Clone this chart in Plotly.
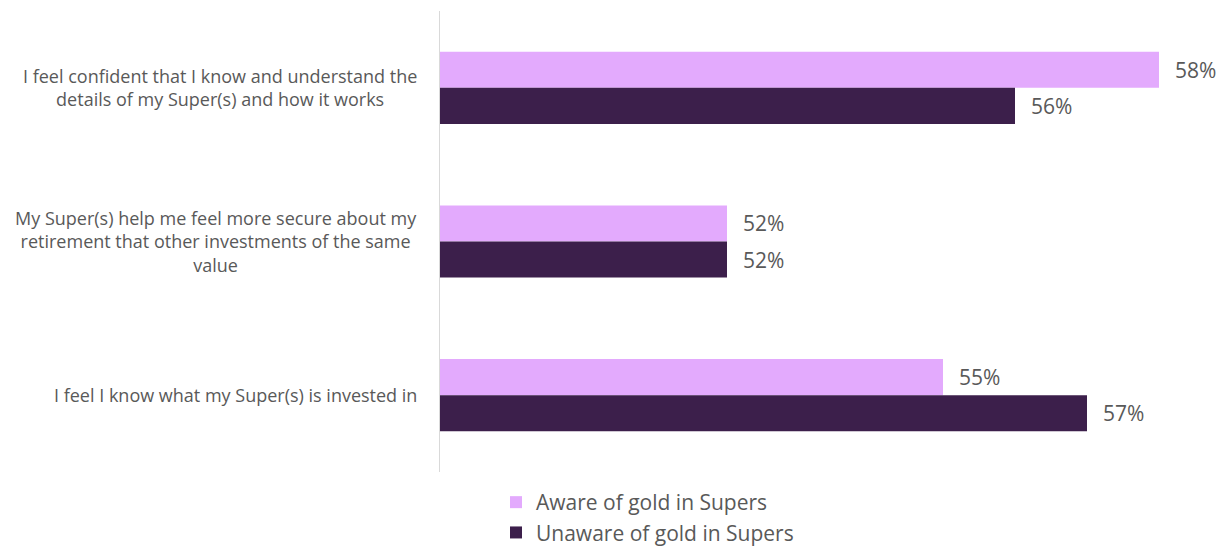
import plotly.graph_objects as go

categories = [
    "I feel confident that I know and understand the<br>details of my Super(s) and how it works",
    "My Super(s) help me feel more secure about my<br>retirement that other investments of the same<br>value",
    "I feel I know what my Super(s) is invested in",
]
aware = [58, 52, 55]
unaware = [56, 52, 57]
series_names = ["Aware of gold in Supers", "Unaware of gold in Supers"]
colors = ["#E3AAFD", "#3C1F4B"]

cat_ids = ["c1", "c2", "c3"]
TEXT = "#595959"
FONT = "Open Sans"

fig = go.Figure()
for name, vals, col in zip(series_names, [aware, unaware], colors):
    fig.add_trace(go.Bar(
        y=cat_ids, x=vals, name=name, orientation="h",
        marker=dict(color=col, line=dict(width=0)),
        text=[f"\u00a0\u00a0\u200a{v}%" for v in vals],
        textposition="outside", cliponaxis=False, constraintext="none",
        textfont=dict(family=FONT, size=21, color=TEXT),
    ))

# category labels: right-aligned block, centered lines
for cid, lab in zip(cat_ids, categories):
    fig.add_annotation(
        x=0, xref="paper", y=cid, yref="y", xanchor="right", yanchor="middle",
        xshift=-20, align="center",
        text=lab, showarrow=False,
        font=dict(family=FONT, size=18, color=TEXT),
    )

fig.update_layout(
    width=1222, height=547,
    margin=dict(l=439, r=63, t=11, b=75, autoexpand=False),
    paper_bgcolor="white", plot_bgcolor="white",
    barmode="group", bargap=0.53, bargroupgap=0,
    showlegend=True,
    legend=dict(
        x=496 / 1222, xref="container", xanchor="left",
        y=1 - 482 / 547, yref="container", yanchor="top",
        font=dict(family=FONT, size=21, color=TEXT),
        itemwidth=30, tracegroupgap=0,
    ),
    xaxis=dict(range=[48, 58], showgrid=False, zeroline=False,
               showticklabels=False, ticks="", showline=False, fixedrange=True),
    yaxis=dict(autorange="reversed", showgrid=False, zeroline=False,
               showticklabels=False, ticks="", showline=False, fixedrange=True),
    shapes=[dict(type="line", xref="x", yref="paper", x0=48, x1=48, y0=0, y1=1,
                 line=dict(color="#D9D9D9", width=2))],
)

fig.write_html("out.html")
